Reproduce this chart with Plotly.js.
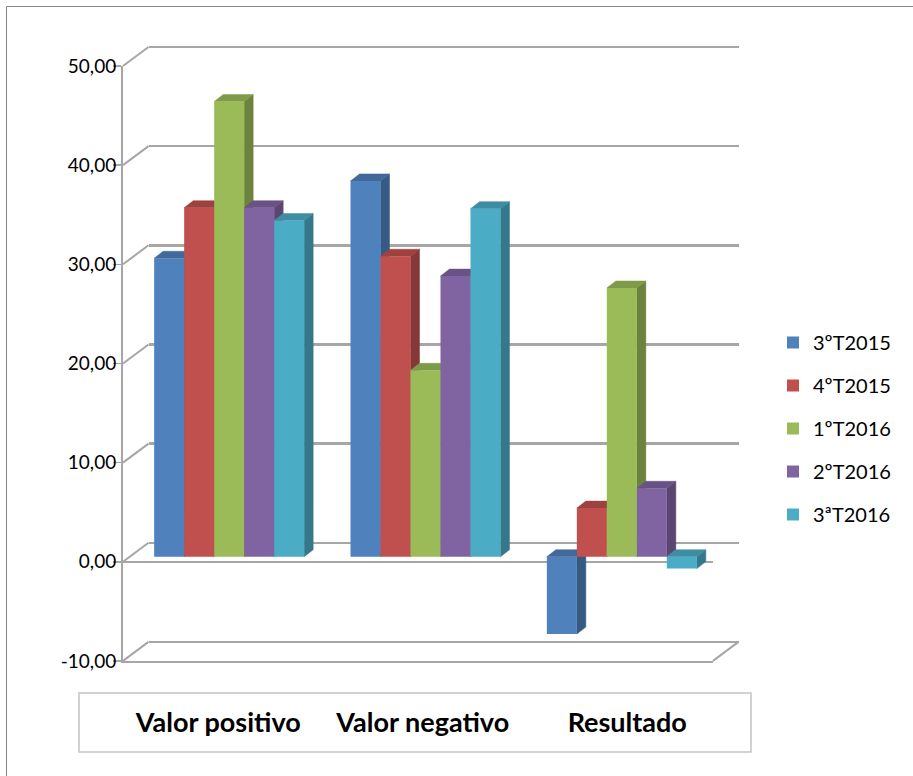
<!DOCTYPE html>
<html>
<head>
<meta charset="utf-8">
<script src="https://cdn.plot.ly/plotly-3.0.1.min.js"></script>
<style>
  html, body { margin: 0; padding: 0; background: #ffffff; }
  #chart { width: 913px; height: 776px; }
</style>
</head>
<body>
<div id="chart"></div>
<script>
// ---- data ----
const categories = ['Valor positivo', 'Valor negativo', 'Resultado'];
const seriesNames = ['3ºT2015', '4ºT2015', '1ºT2016', '2ºT2016', '3ªT2016'];
const t3_2015 = [30.1, 37.9, -7.8];
const t4_2015 = [35.2, 30.3, 4.9];
const t1_2016 = [45.9, 18.8, 27.1];
const t2_2016 = [35.2, 28.3, 6.9];
const t3_2016 = [33.9, 35.1, -1.2];
const yTicks = [-10, 0, 10, 20, 30, 40, 50];

const seriesValues = [t3_2015, t4_2015, t1_2016, t2_2016, t3_2016];

// ---- styling ----
const frontColors = ['#4F81BD', '#C0504D', '#9BBB59', '#8064A2', '#4BACC6'];
const topColors   = ['#41699B', '#9E423F', '#7F9A49', '#695285', '#3E8DA3'];
const sideColors  = ['#375A84', '#863836', '#6C833E', '#5A4671', '#35788B'];
const GRID = '#a6a6a6';
const FONT = 'Lato, Carlito, "Open Sans", sans-serif';

// ---- geometry of the pseudo-3D box (pixels) ----
const W = 913, H = 776;
const fx = p => p / W;       // pixel x -> paper
const fy = p => 1 - p / H;   // pixel y -> paper

const Y_MIN = -10, Y_MAX = 50;
const front = { x0: 123, x1: 713, top: 66, bottom: 660.9 };
const depth = { dx: 25.5, dy: 19 };
const unit = (front.bottom - front.top) / (Y_MAX - Y_MIN);   // px per value unit
const WALL_PAD = 1;   // extra value units around the back wall so its edge gridlines are kept

// plane in which the front faces of the bars sit
const barPlane = { x0: 131, x1: 720, zero: 556.7 };
const BAR_LO = -12, BAR_HI = 52;
const barTopPx = barPlane.zero - BAR_HI * unit;
const barBotPx = barPlane.zero - BAR_LO * unit;

const BARGAP = 0.236;
const slot = (1 - BARGAP) / seriesValues.length;
const catPx = (barPlane.x1 - barPlane.x0) / categories.length;
const dxu = 9 / catPx;   // bar depth, x data units
const dyu = 7 / unit;    // bar depth, y data units
const catIndex = categories.map((_, i) => i);

// ---- traces ----
const traces = [];

// empty anchors so the frame subplots get drawn
function anchorTrace(xa, ya, x, y) {
  return {
    type: 'scatter', mode: 'markers', x: [x], y: [y], xaxis: xa, yaxis: ya,
    marker: { opacity: 0, size: 1 }, hoverinfo: 'skip', showlegend: false
  };
}
traces.push(anchorTrace('x', 'y', 0.5, 0));
traces.push(anchorTrace('x2', 'y2', 0.5, 0));

function face(poly, color) {
  return {
    type: 'scatter', mode: 'lines', x: poly.x, y: poly.y,
    xaxis: 'x3', yaxis: 'y3', fill: 'toself', fillcolor: color,
    line: { color: color, width: 0.5 }, hoverinfo: 'skip', showlegend: false
  };
}

// side and top faces (drawn beneath the front faces)
seriesValues.forEach((vals, j) => {
  const side = { x: [], y: [] }, top = { x: [], y: [] };
  vals.forEach((v, i) => {
    const x0 = i - (1 - BARGAP) / 2 + j * slot, x1 = x0 + slot;
    const hi = Math.max(v, 0), lo = Math.min(v, 0);
    top.x.push(x0, x1, x1 + dxu, x0 + dxu, x0, null);
    top.y.push(hi, hi, hi + dyu, hi + dyu, hi, null);
    side.x.push(x1, x1, x1 + dxu, x1 + dxu, x1, null);
    side.y.push(lo, hi, hi + dyu, lo + dyu, lo, null);
  });
  traces.push(face(side, sideColors[j]), face(top, topColors[j]));
});

// front faces of the bars
seriesValues.forEach((vals, j) => {
  traces.push({
    type: 'bar', name: seriesNames[j], x: catIndex, y: vals,
    xaxis: 'x4', yaxis: 'y4', legendgroup: 'g' + j,
    marker: { color: frontColors[j], line: { width: 0 } },
    hovertemplate: '%{y:.2f}<extra>' + seriesNames[j] + '</extra>'
  });
});

traces.push(anchorTrace('x5', 'y5', 1, 0.5));

// ---- frame decorations ----
const shapes = [];
const valPx = v => front.bottom - (v - Y_MIN) * unit;
yTicks.forEach(v => {
  shapes.push({
    type: 'line', xref: 'paper', yref: 'paper', layer: 'below',
    x0: fx(front.x0), y0: fy(valPx(v)),
    x1: fx(front.x0 + depth.dx), y1: fy(valPx(v) - depth.dy),
    line: { color: GRID, width: 2 }
  });
});
shapes.push({
  type: 'line', xref: 'paper', yref: 'paper', layer: 'below',
  x0: fx(front.x1), y0: fy(valPx(Y_MIN)),
  x1: fx(front.x1 + depth.dx), y1: fy(valPx(Y_MIN) - depth.dy),
  line: { color: GRID, width: 2 }
});
// category label box
shapes.push({
  type: 'rect', xref: 'paper', yref: 'paper', layer: 'below',
  x0: fx(79), x1: fx(751), y0: fy(752), y1: fy(693),
  line: { color: '#c4c4c4', width: 1.5 }
});
// chart border
shapes.push({
  type: 'rect', xref: 'paper', yref: 'paper', layer: 'below',
  x0: fx(6.5), x1: fx(930), y0: fy(800), y1: fy(6.5),
  line: { color: '#868686', width: 1 }
});

const hidden = { visible: false };
const tickText = yTicks.map(v => v.toFixed(2).replace('.', ','));

const layout = {
  width: W, height: H,
  margin: { l: 0, r: 0, t: 0, b: 0 },
  paper_bgcolor: '#ffffff', plot_bgcolor: 'rgba(0,0,0,0)',
  font: { family: FONT, size: 18, color: '#000000' },
  barmode: 'group', bargap: BARGAP, bargroupgap: 0,
  showlegend: true,
  legend: {
    x: fx(773), y: fy(323), xanchor: 'left', yanchor: 'top',
    font: { family: FONT, size: 20, color: '#000000' },
    tracegroupgap: 14, bgcolor: 'rgba(0,0,0,0)'
  },
  // back wall with its gridlines
  xaxis: {
    anchor: 'y', domain: [fx(front.x0 + depth.dx), fx(front.x1 + depth.dx)],
    range: [0, 1], showgrid: false, zeroline: false, showline: false,
    showticklabels: false, ticks: ''
  },
  yaxis: {
    anchor: 'x',
    domain: [fy(front.bottom - depth.dy + WALL_PAD * unit), fy(front.top - depth.dy - WALL_PAD * unit)],
    range: [Y_MIN - WALL_PAD, Y_MAX + WALL_PAD], tickmode: 'array', tickvals: yTicks,
    showgrid: true, gridcolor: GRID, gridwidth: 2.5, zeroline: false,
    showline: false, showticklabels: false, ticks: ''
  },
  // front value axis
  xaxis2: {
    anchor: 'y2', domain: [fx(front.x0), fx(front.x1)], range: [0, 1],
    showline: true, linecolor: GRID, linewidth: 2,
    showgrid: false, zeroline: false, showticklabels: false, ticks: ''
  },
  yaxis2: {
    anchor: 'x2', domain: [fy(front.bottom), fy(front.top)],
    range: [Y_MIN, Y_MAX], tickmode: 'array', tickvals: yTicks, ticktext: tickText,
    ticks: 'outside', ticklen: 8, tickwidth: 1.5, tickcolor: GRID,
    ticklabelstandoff: -7,
    showline: true, linecolor: GRID, linewidth: 2,
    showgrid: false, zeroline: true, zerolinecolor: GRID, zerolinewidth: 2,
    tickfont: { family: FONT, size: 19, color: '#000000' }
  },
  // plane of the bars: side / top faces
  xaxis3: Object.assign({ anchor: 'y3', domain: [fx(barPlane.x0), fx(barPlane.x1)], range: [-0.5, 2.5] }, hidden),
  yaxis3: Object.assign({ anchor: 'x3', domain: [fy(barBotPx), fy(barTopPx)], range: [BAR_LO, BAR_HI] }, hidden),
  // same plane: front faces
  xaxis4: Object.assign({ anchor: 'y4', overlaying: 'x3', range: [-0.5, 2.5] }, hidden),
  yaxis4: Object.assign({ anchor: 'x4', overlaying: 'y3', range: [BAR_LO, BAR_HI] }, hidden),
  // category labels
  xaxis5: {
    anchor: 'y5', domain: [fx(116), fx(729.5)], range: [-0.5, 2.5],
    tickmode: 'array', tickvals: catIndex, ticktext: categories,
    ticks: '', showline: false, showgrid: false, zeroline: false,
    tickfont: { family: FONT, size: 27, color: '#000000', weight: 'bold' }
  },
  yaxis5: Object.assign({ anchor: 'x5', domain: [fy(703.5), fy(697.5)], range: [0, 1] }, hidden),
  shapes: shapes
};

Plotly.newPlot('chart', traces, layout, { displayModeBar: false, staticPlot: true });
</script>
</body>
</html>
